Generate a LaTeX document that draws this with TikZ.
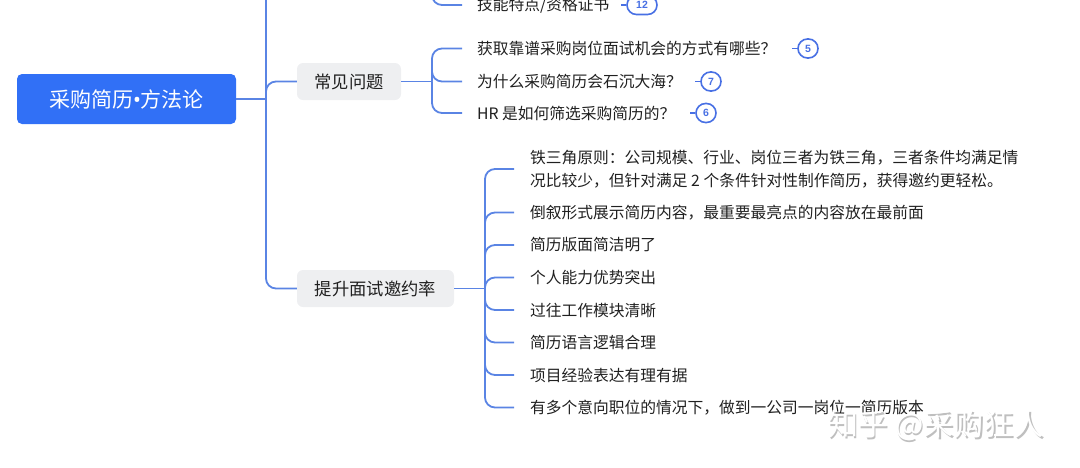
\documentclass[tikz,border=0pt]{standalone}
\usepackage{fontspec}
\setmainfont{Noto Sans CJK SC}
\newfontfamily\latinf{Noto Sans}
\newfontfamily\badgef{Liberation Sans}
\definecolor{rootc}{RGB}{49,112,246}
\definecolor{linkc}{RGB}{90,132,228}
\definecolor{midc}{RGB}{238,239,241}
\definecolor{textc}{RGB}{32,32,32}
\definecolor{badgec}{RGB}{72,112,228}
\begin{document}
\begin{tikzpicture}[x=1pt,y=-1pt,
  conn/.style={draw=linkc, line width=1.8pt, rounded corners=10pt},
  rootbox/.style={fill=rootc, rounded corners=5pt, text=white, font=\fontsize{21}{24}\selectfont, minimum width=219pt, minimum height=50pt, inner sep=0pt},
  midbox/.style={fill=midc, rounded corners=6pt, text=textc, font=\fontsize{17.3}{20}\selectfont, minimum height=37pt, inner sep=0pt},
  leaf/.style={text=textc, font=\fontsize{15.75}{23}\selectfont, inner sep=0pt, anchor=west, align=left},
  badge/.style={rectangle, rounded corners=9.5pt, draw=badgec, line width=1.6pt, fill=white, text=badgec, font=\badgef\bfseries\fontsize{10.5}{10.5}\selectfont, minimum width=20pt, minimum height=19pt, inner sep=0pt},
  bdash/.style={draw=badgec, line width=1.5pt},
  wmark/.style={font=\fontsize{30}{30}\selectfont, inner sep=0pt}
  ]
\useasboundingbox (0,0) rectangle (1080,467);
\clip (0,0) rectangle (1080,467);

% main nodes
\node[rootbox] (root) at (126.5,99) {采购简历{\latinf\bfseries •}方法论};
\node[midbox, minimum width=104pt] (faq) at (349,81.5) {常见问题};
\node[midbox, minimum width=157pt] (up) at (375.5,288.5) {提升面试邀约率};

% trunk
\coordinate (tj) at (266,99);
\coordinate (ttop) at (266,-20);
\draw[conn] (root.east) -- (tj);
\draw[conn] (tj) -- (ttop);
\draw[conn] (tj) |- (faq.west);
\draw[conn] (tj) |- (up.west);

% cropped upper branch
\node[leaf] (skill) at (477,5) {技能特点/资格证书};
\coordinate (sb) at (432,-30);
\draw[conn] (sb) |- ([xshift=-15pt]skill.west);
\node[badge, minimum width=30pt] (b12) at (642,5) {12};
\draw[bdash] ([xshift=-5pt]b12.west) -- (b12.west);

% FAQ children
\coordinate (fj) at (432,81.5);
\draw[conn] (faq.east) -- (fj);
\node[leaf] (q1) at (477,48.5) {获取靠谱采购岗位面试机会的方式有哪些？};
\node[leaf] (q2) at (477,81.5) {为什么采购简历会石沉大海？};
\node[leaf] (q3) at (477,113) {HR 是如何筛选采购简历的？};
\foreach \n in {q1,q2,q3} \draw[conn] (fj) |- ([xshift=-15pt]\n.west);
\node[badge] (b5) at (808,48.5) {5};
\node[badge] (b7) at (711,81.5) {7};
\node[badge] (b6) at (706,113) {6};
\foreach \n in {b5,b7,b6} \draw[bdash] ([xshift=-5pt]\n.west) -- (\n.west);

% improve children
\coordinate (uj) at (485,288.5);
\draw[conn] (up.east) -- (uj);
\node[leaf] (t1) at (530,169) {铁三角原则：公司规模、行业、岗位三者为铁三角，三者条件均满足情\\况比较少，但针对满足 2 个条件针对性制作简历，获得邀约更轻松。};
\node[leaf] (t2) at (530,212.5) {倒叙形式展示简历内容，最重要最亮点的内容放在最前面};
\node[leaf] (t3) at (530,245) {简历版面简洁明了};
\node[leaf] (t4) at (530,277.5) {个人能力优势突出};
\node[leaf] (t5) at (530,310) {过往工作模块清晰};
\node[leaf] (t6) at (530,342.5) {简历语言逻辑合理};
\node[leaf] (t7) at (530,375) {项目经验表达有理有据};
\node[leaf] (t8) at (530,407.5) {有多个意向职位的情况下，做到一公司一岗位一简历版本};
\foreach \n in {t1,t2,t3,t4,t5,t6,t7,t8} \draw[conn] (uj) |- ([xshift=-16pt]\n.west);

% watermark
\node[wmark, text=black!25] (wms) at (937.5,427) {知乎 @采购狂人};
\node[wmark, text=white] (wm) at (936,425.5) {知乎 @采购狂人};
\end{tikzpicture}
\end{document}
